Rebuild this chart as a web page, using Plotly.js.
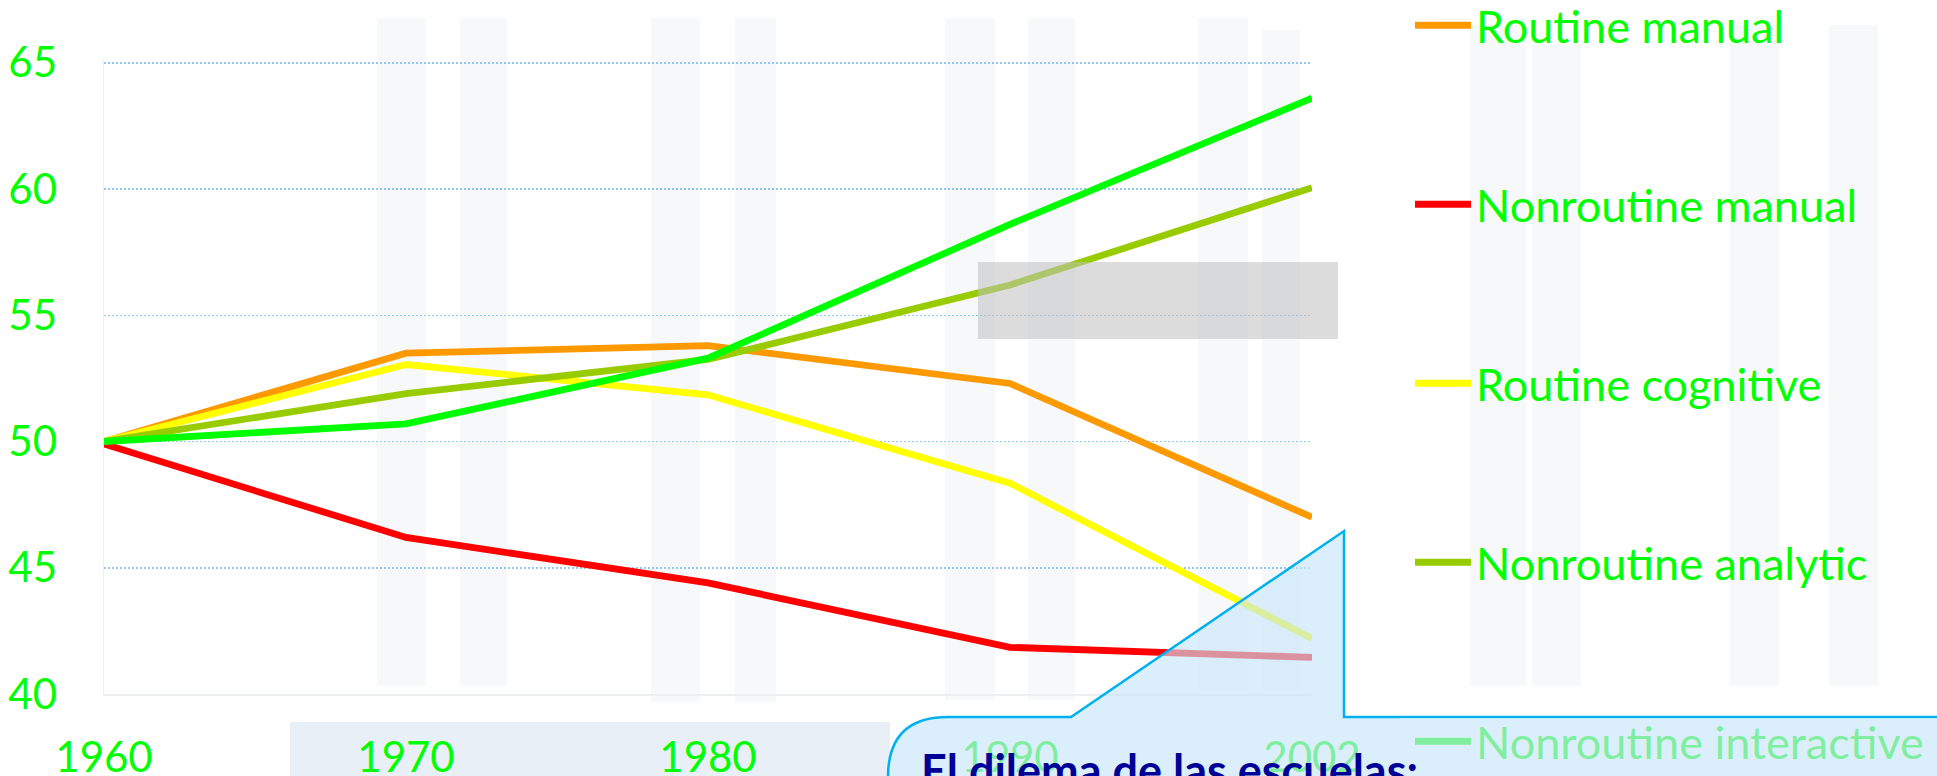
<!DOCTYPE html>
<html>
<head>
<meta charset="utf-8">
<script src="https://cdn.plot.ly/plotly-3.0.1.min.js"></script>
<style>
html, body { margin: 0; padding: 0; background: #ffffff; overflow: hidden; }
#chart { width: 1937px; height: 776px; }
svg text { font-variant-ligatures: none; }
</style>
</head>
<body>
<div id="chart"></div>
<script>
// ---- data ----
const years = ['1960', '1970', '1980', '1990', '2002'];
const routineManual = [50.0, 53.5, 53.8, 52.3, 47.0];
const nonroutineManual = [49.9, 46.2, 44.4, 41.85, 41.45];
const routineCognitive = [50.0, 53.05, 51.85, 48.35, 42.2];
const nonroutineAnalytic = [50.0, 51.9, 53.25, 56.2, 60.05];
const nonroutineInteractive = [50.0, 50.7, 53.3, 58.6, 63.6];
const seriesNames = ['Routine manual', 'Nonroutine manual', 'Routine cognitive', 'Nonroutine analytic', 'Nonroutine interactive'];
const yTickValues = [40, 45, 50, 55, 60, 65];
const calloutTitle = 'El dilema de las escuelas:';

// ---- styles ----
const seriesColors = ['#ff9900', '#ff0000', '#ffff00', '#99cc00', '#00ff00'];
const seriesValues = [routineManual, nonroutineManual, routineCognitive, nonroutineAnalytic, nonroutineInteractive];
const FONT = 'Lato, "Open Sans", sans-serif';

// plot area in page pixels
const W = 1937, H = 776;
const yMin = 40, yMax = 65.15, pxPerUnit = 25.252;
const L = 104, R = 1312, B = 694;
const T = Math.round(B - (yMax - yMin) * pxPerUnit);
const PW = R - L, PH = B - T;
const px = x => (x - L) / PW;          // page px -> paper x
const py = y => (B - y) / PH;          // page px -> paper y
function path(points) {                 // points in page px
  return points.map(p => {
    if (p[0] === 'Z') return 'Z';
    const nums = [];
    for (let i = 1; i < p.length; i += 2) nums.push(px(p[i]).toFixed(5) + ',' + py(p[i + 1]).toFixed(5));
    return p[0] + nums.join(' ');
  }).join(' ');
}

const traces = seriesValues.map((vals, i) => ({
  type: 'scatter',
  mode: 'lines',
  x: years,
  y: vals,
  name: seriesNames[i],
  legendgroup: 'g' + i,
  line: { color: seriesColors[i], width: 6.8 },
  hoverinfo: 'x+y+name'
}));

// faint background blocks (light watermark)
const bgBlocks = [
  [290, 722, 890, 790],
  [377, 18, 426, 686], [460, 18, 507, 686],
  [651, 18, 700, 702], [735, 18, 776, 702],
  [945, 18, 995, 700], [1028, 18, 1075, 700],
  [1198, 18, 1248, 690], [1262, 30, 1300, 690],
  [1470, 25, 1526, 686], [1532, 45, 1581, 686],
  [1730, 25, 1779, 686], [1829, 25, 1878, 686]
];
const shapes = bgBlocks.map((r, i) => ({
  type: 'rect', xref: 'paper', yref: 'paper', layer: 'below',
  x0: px(r[0]), x1: px(r[2]), y0: py(r[3]), y1: py(r[1]),
  line: { width: 0 },
  fillcolor: i === 0 ? 'rgba(226,234,243,0.75)' : 'rgba(228,234,241,0.32)'
}));

// grey translucent box
shapes.push({
  type: 'rect', xref: 'paper', yref: 'paper', layer: 'above',
  x0: px(978), x1: px(1338), y0: py(339), y1: py(262),
  line: { width: 0 }, fillcolor: 'rgba(192,192,192,0.55)'
});

const calloutFill = 'rgba(199,229,249,0.64)';
// callout fill (body part + wedge)
shapes.push({
  type: 'path', xref: 'paper', yref: 'paper', layer: 'above',
  path: path([['M', 888, 800], ['L', 888, 777], ['Q', 888, 717, 948, 717], ['L', 1071, 717], ['L', 1344, 531],
              ['L', 1344, 717], ['L', 1400, 717], ['L', 1400, 800], ['Z']]),
  fillcolor: calloutFill, line: { width: 0 }
});
// callout outline
shapes.push({
  type: 'path', xref: 'paper', yref: 'paper', layer: 'above',
  path: path([['M', 888, 800], ['L', 888, 777], ['Q', 888, 717, 948, 717], ['L', 1071, 717], ['L', 1344, 531],
              ['L', 1344, 717], ['L', 1960, 717]]),
  fillcolor: 'rgba(0,0,0,0)', line: { color: '#00b0f0', width: 2.5 }
});

const annotations = [
  { // callout body over the legend area
    xref: 'paper', yref: 'paper', x: px(1400), y: py(718.3), xanchor: 'left', yanchor: 'top',
    text: ' ', showarrow: false, width: 560, height: 80, borderpad: 0, borderwidth: 0,
    bgcolor: calloutFill
  },
  {
    xref: 'paper', yref: 'paper', x: px(919), y: py(741), xanchor: 'left', yanchor: 'top',
    text: '<b>' + calloutTitle + '</b>', showarrow: false, align: 'left',
    font: { family: FONT, size: 45, color: '#000096' }
  }
];

const layout = {
  width: W, height: H,
  margin: { l: L, r: W - R, t: T, b: H - B, pad: 0, autoexpand: false },
  paper_bgcolor: '#ffffff',
  plot_bgcolor: 'rgba(0,0,0,0)',
  showlegend: true,
  xaxis: {
    type: 'category',
    range: [0, years.length - 1],
    showgrid: false, zeroline: false,
    showline: true, linecolor: '#eceff2', linewidth: 2,
    ticks: '', ticklabelstandoff: 26,
    tickfont: { family: FONT, size: 42, color: '#00ff00' },
    fixedrange: true
  },
  yaxis: {
    range: [yMin, yMax],
    tickmode: 'array', tickvals: yTickValues, ticktext: yTickValues.map(String),
    showgrid: true, gridcolor: 'rgb(146,198,245)', gridwidth: 1.5, griddash: '2px,2px',
    zeroline: false,
    showline: true, linecolor: '#eef0f3', linewidth: 1.5,
    ticks: '', ticklabelstandoff: 37,
    tickfont: { family: FONT, size: 42, color: '#00ff00' },
    fixedrange: true
  },
  legend: {
    xref: 'paper', yref: 'paper',
    x: px(1410), xanchor: 'left',
    y: py(-10.5), yanchor: 'top',
    bgcolor: 'rgba(0,0,0,0)', borderwidth: 0,
    font: { family: FONT, size: 45, color: '#00ff00' },
    traceorder: 'grouped',
    tracegroupgap: 117.5,
    itemwidth: 56,
    maxheight: 950,
    valign: 'middle'
  },
  shapes: shapes,
  annotations: annotations
};

Plotly.newPlot('chart', traces, layout, { displayModeBar: false, staticPlot: true });
</script>
</body>
</html>
